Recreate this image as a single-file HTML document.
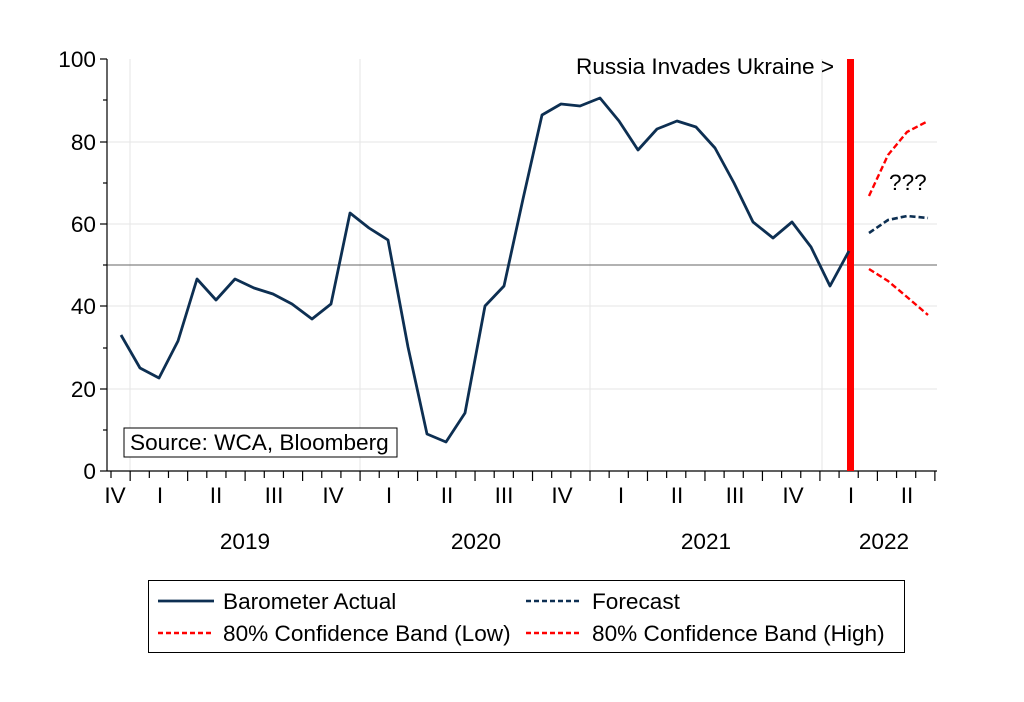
<!DOCTYPE html>
<html><head><style>body{margin:0;background:#fff}svg{display:block}text{font-family:"Liberation Sans",sans-serif;fill:#000}</style></head><body>
<svg width="1024" height="702" viewBox="0 0 1024 702">
<g stroke="#e6e6e6" stroke-width="1">
<line x1="107" y1="142" x2="937" y2="142"/><line x1="107" y1="224" x2="937" y2="224"/><line x1="107" y1="306" x2="937" y2="306"/><line x1="107" y1="389" x2="937" y2="389"/>
<line x1="130" y1="59" x2="130" y2="471"/><line x1="360" y1="59" x2="360" y2="471"/><line x1="590" y1="59" x2="590" y2="471"/><line x1="822" y1="59" x2="822" y2="471"/>
</g>
<line x1="107" y1="265" x2="937" y2="265" stroke="#666" stroke-width="1"/>
<g stroke="#000" stroke-width="1.2">
<line x1="107" y1="59" x2="107" y2="471"/><line x1="107" y1="471" x2="937" y2="471"/>
<line x1="100" y1="59" x2="107" y2="59"/><line x1="100" y1="142" x2="107" y2="142"/><line x1="100" y1="224" x2="107" y2="224"/><line x1="100" y1="306" x2="107" y2="306"/><line x1="100" y1="389" x2="107" y2="389"/><line x1="100" y1="471" x2="107" y2="471"/>
<line x1="103" y1="100" x2="107" y2="100"/><line x1="103" y1="183" x2="107" y2="183"/><line x1="103" y1="265" x2="107" y2="265"/><line x1="103" y1="348" x2="107" y2="348"/><line x1="103" y1="430" x2="107" y2="430"/>
</g>
<g id="ticks" stroke="#000" stroke-width="1.2"></g>
<g font-size="22.6" text-anchor="end">
<text x="96" y="67">100</text><text x="96" y="150">80</text><text x="96" y="232">60</text><text x="96" y="314">40</text><text x="96" y="397">20</text><text x="96" y="479">0</text>
</g>
<g font-size="22.6" text-anchor="middle">
<text x="115" y="503">IV</text><text x="160" y="503">I</text><text x="216" y="503">II</text><text x="274" y="503">III</text><text x="333" y="503">IV</text><text x="389" y="503">I</text><text x="447" y="503">II</text><text x="504" y="503">III</text><text x="562" y="503">IV</text><text x="621" y="503">I</text><text x="677" y="503">II</text><text x="735" y="503">III</text><text x="793" y="503">IV</text><text x="851" y="503">I</text><text x="907" y="503">II</text>
<text x="245" y="549">2019</text><text x="476" y="549">2020</text><text x="706" y="549">2021</text><text x="884" y="549">2022</text>
</g>
<rect x="847" y="59" width="7" height="412" fill="#ff0000"/>
<polyline fill="none" stroke="#0d2f52" stroke-width="2.8" stroke-linejoin="round" points="121,335 140,368 159,378 178,341 197,279 216,300 235,279 254,288 273,294 292,304 312,319 331,304 350,213 369,228 388,240 408,347 427,434 446,442 465,413 485,306 504,286 523,199 542,115 561,104 580,106 600,98 619,121 638,150 657,129 677,121 696,127 715,148 734,183 753,222 773,238 792,222 811,247 830,286 849,251"/>
<polyline fill="none" stroke="#0d2f52" stroke-width="2.6" stroke-dasharray="6,3" points="869,233 888,220 907,216 928,218"/>
<polyline fill="none" stroke="#ff0000" stroke-width="2.4" stroke-dasharray="6,3" points="869,196 888,155 907,132 928,121"/>
<polyline fill="none" stroke="#ff0000" stroke-width="2.4" stroke-dasharray="6,3" points="869,269 888,281 907,297 928,315"/>
<text x="576" y="74" font-size="22.6">Russia Invades Ukraine &gt;</text>
<text x="889" y="190" font-size="22.6">???</text>
<rect x="124" y="428" width="273" height="29" fill="#fff" stroke="#000" stroke-width="1"/>
<text x="130" y="450" font-size="22.6">Source: WCA, Bloomberg</text>
<rect x="148.5" y="580.5" width="756" height="72" fill="#fff" stroke="#000" stroke-width="1"/>
<line x1="158" y1="601" x2="214" y2="601" stroke="#0d2f52" stroke-width="2.8"/>
<line x1="526" y1="601" x2="582" y2="601" stroke="#0d2f52" stroke-width="2.4" stroke-dasharray="5,3"/>
<line x1="158" y1="633" x2="214" y2="633" stroke="#ff0000" stroke-width="2.4" stroke-dasharray="5,3"/>
<line x1="526" y1="633" x2="582" y2="633" stroke="#ff0000" stroke-width="2.4" stroke-dasharray="5,3"/>
<g font-size="22.6"><text x="223" y="609">Barometer Actual</text><text x="592" y="609">Forecast</text><text x="223" y="641">80% Confidence Band (Low)</text><text x="592" y="641">80% Confidence Band (High)</text></g>
</svg>
<script>
var g=document.getElementById('ticks'),s='';
for(var k=0;k<44;k++){var x=111+19.16*k;if(x>937)break;var l=(k%3==1)?10:7;s+='<line x1="'+x+'" y1="471" x2="'+x+'" y2="'+(471+l)+'"/>';}
g.innerHTML=s;
</script>
</body></html>
